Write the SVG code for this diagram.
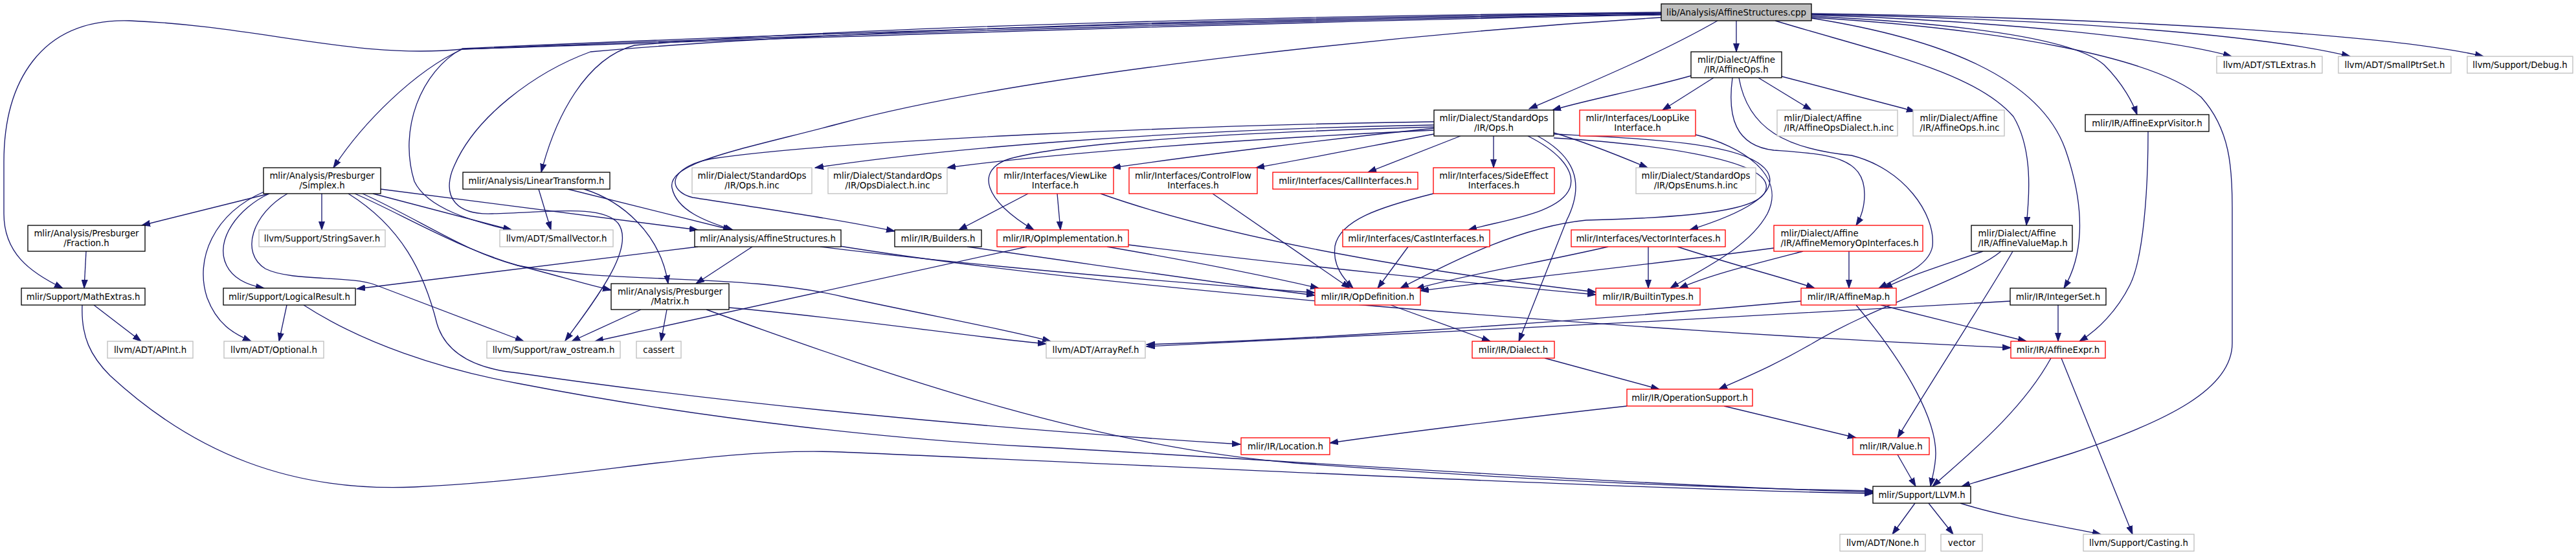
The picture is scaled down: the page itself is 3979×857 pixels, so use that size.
<svg xmlns="http://www.w3.org/2000/svg" width="3979" height="857" viewBox="0 0 3979 857">
<style>
.nd rect{fill:#fff;stroke:#000;stroke-width:1.33}
.rd rect{stroke:#f00}
.gy rect{stroke:#bfbfbf}
.root rect{fill:#bfbfbf}
.nd text{font-family:"DejaVu Sans","Liberation Sans",sans-serif;font-size:13.33px;fill:#000;text-anchor:middle}
.nd text.l{text-anchor:start}
#edges path{fill:none;stroke:#191970;stroke-width:1.33;marker-end:url(#ah)}
</style>
<defs>
<marker id="ah" markerWidth="14" markerHeight="10" refX="13" refY="5" orient="auto" markerUnits="userSpaceOnUse">
<path d="M0,0.5 L13,5 L0,9.5 z" fill="#191970" stroke="#191970" stroke-width="1"/>
</marker>
</defs>
<rect width="3979" height="857" fill="#fff"/>
<g id="edges">
<path d="M2682,32 L2682,80"/>
<path d="M2653,32 C2560,85 2450,130 2362,168"/>
<path d="M2566,27 C2200,50 1600,110 1300,190 C1150,230 1030,250 1038,290 C1045,325 1090,342 1132,355"/>
<path d="M2566,19 C2000,24 1300,42 980,70 C905,90 858,180 836,266"/>
<path d="M2566,20 C2000,26 1300,45 912,80 C830,110 730,180 698,265 C685,305 705,332 760,330 C850,328 930,315 955,345 C980,380 930,450 873,526"/>
<path d="M2566,21 C2000,28 1200,52 714,75 C650,110 615,200 640,280 C660,322 730,342 792,356"/>
<path d="M2566,22 C2000,30 1200,56 714,76 C640,110 560,190 515,259"/>
<path d="M2566,23 C2000,32 1200,60 714,76 C550,92 400,40 200,32 C60,28 6,130 6,250 L6,330 C6,390 45,420 97,445"/>
<path d="M2742,32 C2900,80 3050,110 3110,180 C3140,230 3135,300 3130,348"/>
<path d="M2798,28 C3000,60 3150,120 3190,230 C3225,330 3215,400 3188,445"/>
<path d="M2798,25 C3000,35 3200,55 3250,100 C3280,130 3295,160 3301,177"/>
<path d="M2798,27 C3100,45 3330,90 3400,150 C3445,200 3448,260 3448,320 L3448,530 C3448,600 3350,650 3200,700 C3120,725 3060,742 3030,751"/>
<path d="M2798,23 C3100,33 3350,60 3447,87"/>
<path d="M2798,22 C3200,30 3500,55 3630,87"/>
<path d="M2798,21 C3300,28 3700,55 3836,87"/>
<path d="M2612,117 C2530,140 2460,152 2398,170"/>
<path d="M2647,120 L2568,170"/>
<path d="M2676,120 C2668,180 2680,225 2740,232 C2820,238 2880,240 2880,300 C2880,320 2875,335 2867,348"/>
<path d="M2686,120 C2700,200 2760,230 2860,240 C2940,260 2990,330 2985,380 C2980,410 2940,425 2902,445"/>
<path d="M2716,120 L2798,170"/>
<path d="M2752,118 L2958,172"/>
<path d="M2215,198 C2050,215 1850,240 1718,259"/>
<path d="M2215,207 C2120,225 2020,245 1940,259"/>
<path d="M2256,210 L2113,266"/>
<path d="M2307,210 L2307,259"/>
<path d="M2400,205 C2450,220 2500,240 2545,259"/>
<path d="M2360,210 C2400,230 2435,260 2425,290 C2410,330 2320,340 2268,355"/>
<path d="M2375,210 C2430,240 2450,280 2420,340 L2346,527"/>
<path d="M2400,207 C2550,215 2700,220 2730,265 C2750,300 2690,330 2610,355"/>
<path d="M2400,213 C2550,222 2720,245 2728,285 C2735,320 2650,335 2450,340 C2350,350 2250,400 2163,445"/>
<path d="M2215,193 C1800,200 1450,230 1259,259"/>
<path d="M2215,201 C1900,215 1600,240 1463,259"/>
<path d="M2215,188 C1900,192 1300,215 1100,245 C1030,258 1030,295 1070,305 C1200,325 1300,340 1382,357"/>
<path d="M2215,196 C1900,205 1650,220 1560,245 C1505,262 1520,310 1597,355"/>
<path d="M2619,208 C2690,225 2760,270 2730,330 C2700,385 2620,420 2580,445"/>
<path d="M416,299 L219,348"/>
<path d="M497,299 L497,355"/>
<path d="M576,299 L790,355"/>
<path d="M588,292 L1078,355"/>
<path d="M408,296 C330,330 300,400 320,460 C335,500 360,515 388,527"/>
<path d="M416,299 C370,320 330,370 350,410 C360,430 380,440 408,445"/>
<path d="M444,299 C390,330 370,390 410,415 C450,435 540,425 580,440 L809,527"/>
<path d="M538,299 C620,350 655,420 675,500 C690,550 740,570 800,576 C1100,620 1500,660 1916,686"/>
<path d="M560,299 C650,340 720,390 800,410 C860,425 900,438 944,448"/>
<path d="M548,299 C620,330 700,380 800,410 C950,440 1150,420 1310,460 C1450,490 1560,510 1623,527"/>
<path d="M832,292 L851,355"/>
<path d="M877,292 L1130,355"/>
<path d="M902,292 C960,310 1020,360 1032,438"/>
<path d="M133,388 L130,445"/>
<path d="M1078,381 L551,446"/>
<path d="M1162,381 L1075,438"/>
<path d="M1267,381 C1500,410 1800,435 2031,452"/>
<path d="M1297,380 C1700,445 2500,510 3106,537"/>
<path d="M1494,381 C1700,410 1900,440 2031,456"/>
<path d="M1633,299 L1638,355"/>
<path d="M1588,299 L1481,355"/>
<path d="M1700,299 C1900,370 2200,420 2465,451"/>
<path d="M1586,381 L919,527"/>
<path d="M1710,381 C1850,405 1950,425 2037,445"/>
<path d="M1743,378 C2000,410 2300,440 2465,455"/>
<path d="M1873,299 L2085,445"/>
<path d="M2214,299 C2130,320 2070,340 2062,380 C2058,410 2075,430 2090,445"/>
<path d="M2175,381 L2128,445"/>
<path d="M2484,381 C2380,405 2260,425 2187,446"/>
<path d="M2546,381 L2546,445"/>
<path d="M2591,381 C2680,410 2760,430 2803,445"/>
<path d="M2740,383 C2500,415 2300,435 2194,449"/>
<path d="M2785,388 C2700,410 2640,425 2594,445"/>
<path d="M2856,388 L2856,445"/>
<path d="M3063,388 C3000,410 2950,425 2910,445"/>
<path d="M3091,388 C3040,430 2900,470 2800,530 C2740,565 2690,585 2655,601"/>
<path d="M3109,388 C3080,440 2970,610 2931,676"/>
<path d="M3318,203 C3318,300 3310,400 3290,440 C3270,480 3240,510 3212,527"/>
<path d="M3179,471 L3179,527"/>
<path d="M3105,465 C2700,490 2000,525 1771,535"/>
<path d="M2867,471 C2950,570 2990,650 2990,700 C2990,720 2985,735 2982,751"/>
<path d="M2905,471 L3130,527"/>
<path d="M2782,465 C2400,500 2000,525 1771,532"/>
<path d="M2148,471 L2302,527"/>
<path d="M2386,553 L2563,601"/>
<path d="M2513,627 C2350,645 2150,670 2054,684"/>
<path d="M2663,627 L2867,676"/>
<path d="M2931,702 L2959,751"/>
<path d="M3168,553 C3120,640 3030,710 2985,751"/>
<path d="M3184,553 L3294,825"/>
<path d="M2958,777 L2923,825"/>
<path d="M2979,777 L3017,825"/>
<path d="M3028,777 C3100,800 3200,815 3245,825"/>
<path d="M145,471 L218,527"/>
<path d="M127,471 C125,520 140,550 170,580 C300,700 450,760 640,752 C900,740 1100,690 1300,698 C1700,715 2500,755 2893,762"/>
<path d="M443,471 L431,527"/>
<path d="M469,471 C560,530 680,570 800,592 C1100,650 1400,680 1600,690 C2000,712 2500,748 2893,760"/>
<path d="M990,478 L883,527"/>
<path d="M1030,478 L1021,527"/>
<path d="M1126,475 C1300,490 1500,520 1616,531"/>
<path d="M1091,478 C1400,590 1700,690 2000,715 C2400,745 2700,755 2893,758"/>
</g>
<g id="n_cpp" class="nd root"><rect x="2566" y="6" width="232" height="26"/><text x="2682" y="23.5">lib/Analysis/AffineStructures.cpp</text></g>
<g id="n_affineops" class="nd"><rect x="2612" y="80" width="140" height="40"/><text x="2682" y="97">mlir/Dialect/Affine</text><text x="2682" y="111.5">/IR/AffineOps.h</text></g>
<g id="n_stlextras" class="nd gy"><rect x="3424" y="87" width="163" height="26"/><text x="3505.5" y="104.5">llvm/ADT/STLExtras.h</text></g>
<g id="n_smallptrset" class="nd gy"><rect x="3612" y="87" width="174" height="26"/><text x="3699" y="104.5">llvm/ADT/SmallPtrSet.h</text></g>
<g id="n_debug" class="nd gy"><rect x="3811" y="87" width="163" height="26"/><text x="3892.5" y="104.5">llvm/Support/Debug.h</text></g>
<g id="n_stdops" class="nd"><rect x="2215" y="170" width="185" height="40"/><text x="2307.5" y="187">mlir/Dialect/StandardOps</text><text x="2307.5" y="201.5">/IR/Ops.h</text></g>
<g id="n_looplike" class="nd rd"><rect x="2440" y="170" width="179" height="40"/><text x="2529.5" y="187">mlir/Interfaces/LoopLike</text><text x="2529.5" y="201.5">Interface.h</text></g>
<g id="n_affdialectinc" class="nd gy"><rect x="2745" y="170" width="186" height="40"/><text class="l" x="2755.5" y="187">mlir/Dialect/Affine</text><text class="l" x="2755.5" y="201.5">/IR/AffineOpsDialect.h.inc</text></g>
<g id="n_affopsinc" class="nd gy"><rect x="2955" y="170" width="141" height="40"/><text class="l" x="2965.5" y="187">mlir/Dialect/Affine</text><text class="l" x="2965.5" y="201.5">/IR/AffineOps.h.inc</text></g>
<g id="n_affexprvisitor" class="nd"><rect x="3221" y="177" width="191" height="26"/><text x="3316.5" y="194.5">mlir/IR/AffineExprVisitor.h</text></g>
<g id="n_simplex" class="nd"><rect x="407" y="259" width="181" height="40"/><text x="497.5" y="276">mlir/Analysis/Presburger</text><text x="497.5" y="290.5">/Simplex.h</text></g>
<g id="n_lintrans" class="nd"><rect x="715" y="266" width="227" height="26"/><text x="828.5" y="283.5">mlir/Analysis/LinearTransform.h</text></g>
<g id="n_opsinc" class="nd gy"><rect x="1069" y="259" width="185" height="40"/><text x="1161.5" y="276">mlir/Dialect/StandardOps</text><text x="1161.5" y="290.5">/IR/Ops.h.inc</text></g>
<g id="n_opsdialectinc" class="nd gy"><rect x="1279" y="259" width="184" height="40"/><text x="1371" y="276">mlir/Dialect/StandardOps</text><text x="1371" y="290.5">/IR/OpsDialect.h.inc</text></g>
<g id="n_viewlike" class="nd rd"><rect x="1540" y="259" width="180" height="40"/><text x="1630" y="276">mlir/Interfaces/ViewLike</text><text x="1630" y="290.5">Interface.h</text></g>
<g id="n_controlflow" class="nd rd"><rect x="1744" y="259" width="198" height="40"/><text x="1843" y="276">mlir/Interfaces/ControlFlow</text><text x="1843" y="290.5">Interfaces.h</text></g>
<g id="n_callif" class="nd rd"><rect x="1966" y="266" width="224" height="26"/><text x="2078" y="283.5">mlir/Interfaces/CallInterfaces.h</text></g>
<g id="n_sideeffect" class="nd rd"><rect x="2214" y="259" width="187" height="40"/><text x="2307.5" y="276">mlir/Interfaces/SideEffect</text><text x="2307.5" y="290.5">Interfaces.h</text></g>
<g id="n_opsenums" class="nd gy"><rect x="2527" y="259" width="185" height="40"/><text x="2619.5" y="276">mlir/Dialect/StandardOps</text><text x="2619.5" y="290.5">/IR/OpsEnums.h.inc</text></g>
<g id="n_fraction" class="nd"><rect x="43" y="348" width="181" height="40"/><text x="133.5" y="365">mlir/Analysis/Presburger</text><text x="133.5" y="379.5">/Fraction.h</text></g>
<g id="n_stringsaver" class="nd gy"><rect x="400" y="355" width="195" height="26"/><text x="497.5" y="372.5">llvm/Support/StringSaver.h</text></g>
<g id="n_smallvector" class="nd gy"><rect x="772" y="355" width="175" height="26"/><text x="859.5" y="372.5">llvm/ADT/SmallVector.h</text></g>
<g id="n_affstructh" class="nd"><rect x="1073" y="355" width="226" height="26"/><text x="1186" y="372.5">mlir/Analysis/AffineStructures.h</text></g>
<g id="n_builders" class="nd"><rect x="1382" y="355" width="134" height="26"/><text x="1449" y="372.5">mlir/IR/Builders.h</text></g>
<g id="n_opimpl" class="nd rd"><rect x="1540" y="355" width="203" height="26"/><text x="1641.5" y="372.5">mlir/IR/OpImplementation.h</text></g>
<g id="n_castif" class="nd rd"><rect x="2074" y="355" width="227" height="26"/><text x="2187.5" y="372.5">mlir/Interfaces/CastInterfaces.h</text></g>
<g id="n_vectorif" class="nd rd"><rect x="2427" y="355" width="238" height="26"/><text x="2546" y="372.5">mlir/Interfaces/VectorInterfaces.h</text></g>
<g id="n_affmemop" class="nd rd"><rect x="2740" y="348" width="230" height="40"/><text class="l" x="2750.5" y="365">mlir/Dialect/Affine</text><text class="l" x="2750.5" y="379.5">/IR/AffineMemoryOpInterfaces.h</text></g>
<g id="n_affvaluemap" class="nd"><rect x="3045" y="348" width="156" height="40"/><text class="l" x="3055.5" y="365">mlir/Dialect/Affine</text><text class="l" x="3055.5" y="379.5">/IR/AffineValueMap.h</text></g>
<g id="n_mathextras" class="nd"><rect x="33" y="445" width="191" height="26"/><text x="128.5" y="462.5">mlir/Support/MathExtras.h</text></g>
<g id="n_logicalresult" class="nd"><rect x="345" y="445" width="204" height="26"/><text x="447" y="462.5">mlir/Support/LogicalResult.h</text></g>
<g id="n_matrix" class="nd"><rect x="944" y="438" width="182" height="40"/><text x="1035" y="455">mlir/Analysis/Presburger</text><text x="1035" y="469.5">/Matrix.h</text></g>
<g id="n_opdef" class="nd rd"><rect x="2031" y="445" width="163" height="26"/><text x="2112.5" y="462.5">mlir/IR/OpDefinition.h</text></g>
<g id="n_builtintypes" class="nd rd"><rect x="2465" y="445" width="161" height="26"/><text x="2545.5" y="462.5">mlir/IR/BuiltinTypes.h</text></g>
<g id="n_affinemap" class="nd rd"><rect x="2782" y="445" width="147" height="26"/><text x="2855.5" y="462.5">mlir/IR/AffineMap.h</text></g>
<g id="n_integerset" class="nd"><rect x="3105" y="445" width="148" height="26"/><text x="3179" y="462.5">mlir/IR/IntegerSet.h</text></g>
<g id="n_apint" class="nd gy"><rect x="166" y="527" width="132" height="26"/><text x="232" y="544.5">llvm/ADT/APInt.h</text></g>
<g id="n_optional" class="nd gy"><rect x="346" y="527" width="154" height="26"/><text x="423" y="544.5">llvm/ADT/Optional.h</text></g>
<g id="n_rawostream" class="nd gy"><rect x="752" y="527" width="206" height="26"/><text x="855" y="544.5">llvm/Support/raw_ostream.h</text></g>
<g id="n_cassert" class="nd gy"><rect x="983" y="527" width="69" height="26"/><text x="1017.5" y="544.5">cassert</text></g>
<g id="n_arrayref" class="nd gy"><rect x="1616" y="527" width="153" height="26"/><text x="1692.5" y="544.5">llvm/ADT/ArrayRef.h</text></g>
<g id="n_dialect" class="nd rd"><rect x="2274" y="527" width="127" height="26"/><text x="2337.5" y="544.5">mlir/IR/Dialect.h</text></g>
<g id="n_affineexpr" class="nd rd"><rect x="3106" y="527" width="146" height="26"/><text x="3179" y="544.5">mlir/IR/AffineExpr.h</text></g>
<g id="n_opsupport" class="nd rd"><rect x="2513" y="601" width="194" height="26"/><text x="2610" y="618.5">mlir/IR/OperationSupport.h</text></g>
<g id="n_location" class="nd rd"><rect x="1917" y="676" width="137" height="26"/><text x="1985.5" y="693.5">mlir/IR/Location.h</text></g>
<g id="n_value" class="nd rd"><rect x="2862" y="676" width="118" height="26"/><text x="2921" y="693.5">mlir/IR/Value.h</text></g>
<g id="n_llvm" class="nd"><rect x="2893" y="751" width="151" height="26"/><text x="2968.5" y="768.5">mlir/Support/LLVM.h</text></g>
<g id="n_none" class="nd gy"><rect x="2842" y="825" width="132" height="26"/><text x="2908" y="842.5">llvm/ADT/None.h</text></g>
<g id="n_vector" class="nd gy"><rect x="2998" y="825" width="64" height="26"/><text x="3030" y="842.5">vector</text></g>
<g id="n_casting" class="nd gy"><rect x="3218" y="825" width="171" height="26"/><text x="3303.5" y="842.5">llvm/Support/Casting.h</text></g>
</svg>
